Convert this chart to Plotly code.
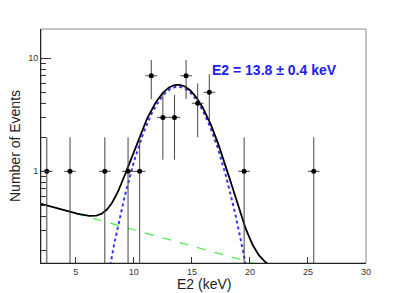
import numpy as np
import plotly.graph_objects as go

# Data (histogram bins, width 1 keV)
bin_centers = [2.5, 4.5, 7.5, 9.5, 10.5, 11.5, 12.5, 13.5, 14.5, 15.5, 16.5, 19.5, 25.5]
counts = [1, 1, 1, 1, 1, 7, 3, 3, 7, 4, 5, 1, 1]
bin_half_width = [0.5] * len(bin_centers)

# Fit parameters
gauss_amp = 5.6
gauss_mean = 13.8
gauss_sigma = 2.17
bg_at_2 = 0.516
bg_decay_per_keV = 0.0287  # log10 slope

x_ticks = [5, 10, 15, 20, 25, 30]
y_ticks = [1, 10]
y_minor = [0.2, 0.3, 0.4, 0.5, 0.6, 0.7, 0.8, 0.9, 2, 3, 4, 5, 6, 7, 8, 9]

err_up = [np.sqrt(c) for c in counts]
err_dn = [min(np.sqrt(c), c * 0.999) for c in counts]

xs = np.linspace(2, 30, 600)
bg = bg_at_2 * 10 ** (-bg_decay_per_keV * (xs - 2))
gauss = gauss_amp * np.exp(-(xs - gauss_mean) ** 2 / (2 * gauss_sigma ** 2))
total = bg + gauss

fig = go.Figure()
fig.add_trace(go.Scatter(x=xs, y=bg, mode="lines",
                         line=dict(color="#44ee44", width=1.2, dash="dash"), hoverinfo="skip"))
fig.add_trace(go.Scatter(x=xs, y=gauss, mode="lines",
                         line=dict(color="#3333ff", width=2, dash="dot"), hoverinfo="skip"))
fig.add_trace(go.Scatter(x=xs, y=total, mode="lines",
                         line=dict(color="black", width=1.8), hoverinfo="skip"))
fig.add_trace(go.Scatter(
    x=bin_centers, y=counts, mode="markers",
    marker=dict(color="black", size=5, symbol="circle"),
    error_y=dict(type="data", array=err_up, arrayminus=err_dn, symmetric=False,
                 color="#444444", thickness=1, width=0),
    error_x=dict(type="data", array=bin_half_width, color="#444444", thickness=1, width=0),
))

font_family = "Liberation Sans, Arial, Helvetica, sans-serif"

fig.add_annotation(
    text="<b>E2 = 13.8 ± 0.4 keV</b>", xref="paper", yref="paper",
    x=0.52, y=0.825, xanchor="left", yanchor="middle", showarrow=False,
    font=dict(family=font_family, size=14, color="#2020ee"),
)
# axis titles
fig.add_annotation(
    text="E2 (keV)", xref="paper", yref="paper", x=0.5, y=0, yshift=-21,
    xanchor="center", yanchor="middle", showarrow=False,
    font=dict(family=font_family, size=14, color="#222222"),
)
fig.add_annotation(
    text="Number of Events", xref="paper", yref="paper", x=0, y=0.5, xshift=-26,
    xanchor="center", yanchor="middle", textangle=-90, showarrow=False,
    font=dict(family=font_family, size=14, color="#222222"),
)

fig.add_shape(type="rect", xref="paper", yref="paper", x0=0, y0=0, x1=1, y1=1,
              line=dict(color="#888888", width=1), layer="below")

# page body has an 8px margin, so the figure is offset by 8px
fig.update_layout(
    width=399, height=285,
    margin=dict(l=33, r=41, t=21, b=30, autoexpand=False),
    paper_bgcolor="white", plot_bgcolor="white",
    showlegend=False,
    font=dict(family=font_family, color="#222222"),
    xaxis=dict(
        range=[2, 30], tickmode="array", tickvals=x_ticks,
        ticks="inside", ticklen=6, tickcolor="#333333", tickwidth=1,
        showgrid=False, zeroline=False, automargin=False,
        showline=True, linecolor="#222222", linewidth=1,
        tickfont=dict(size=9, color="#333333"),
    ),
    yaxis=dict(
        type="log", range=[-0.811, 1.259], tickmode="array", tickvals=y_ticks,
        ticktext=["1", "10"],
        ticks="inside", ticklen=10, tickcolor="#333333", tickwidth=1,
        minor=dict(tickmode="array", tickvals=y_minor, ticks="inside", ticklen=5,
                   tickcolor="#333333", showgrid=False),
        showgrid=False, zeroline=False, automargin=False,
        showline=True, linecolor="#222222", linewidth=1,
        tickfont=dict(size=9, color="#333333"),
    ),
)

fig.write_html("out.html")
